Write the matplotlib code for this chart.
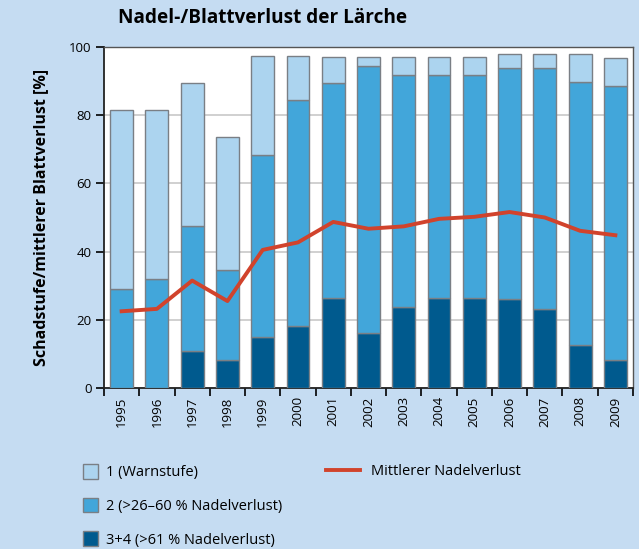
import matplotlib.pyplot as plt
from matplotlib.patches import Patch
from matplotlib.lines import Line2D
import numpy as np

years = ["1995", "1996", "1997", "1998", "1999", "2000", "2001", "2002",
         "2003", "2004", "2005", "2006", "2007", "2008", "2009"]
# cumulative tops
total = [81.5, 81.5, 89.4, 73.7, 97.4, 97.4, 97.1, 97.1, 97.1, 97.1, 97.1, 97.9, 97.9, 97.9, 96.8]
top2 = [29.1, 32.0, 47.5, 34.6, 68.2, 84.6, 89.4, 94.5, 91.9, 91.9, 91.9, 93.9, 93.9, 89.6, 88.7]
stufe34 = [0, 0, 10.8, 8.2, 15.0, 18.3, 26.5, 16.1, 23.8, 26.5, 26.5, 26.2, 23.3, 12.7, 8.2]
mittel = [22.5, 23.2, 31.5, 25.5, 40.5, 42.7, 48.7, 46.7, 47.4, 49.6, 50.2, 51.6, 50.0, 46.1, 44.8]

stufe2 = [t - d for t, d in zip(top2, stufe34)]
stufe1 = [t - m for t, m in zip(total, top2)]

c_light = "#acd4ef"
c_mid = "#42a6da"
c_dark = "#005a8e"
c_line = "#d1432c"
bg = "#c5dcf2"
edge = "#7a7f85"

plt.rcParams['font.family'] = ['Open Sans', 'DejaVu Sans']

fig = plt.figure(figsize=(6.39, 5.49), dpi=100, facecolor=bg)
ax = fig.add_axes([104 / 639, 1 - 388 / 549, 529 / 639, 341 / 549])
ax.set_facecolor("white")

x = np.arange(len(years))
w = 0.65
kw = dict(width=w, edgecolor=edge, linewidth=1.0, zorder=3)
ax.bar(x, stufe34, color=c_dark, **kw)
ax.bar(x, stufe2, bottom=stufe34, color=c_mid, **kw)
ax.bar(x, stufe1, bottom=top2, color=c_light, **kw)
ax.plot(x, mittel, color=c_line, linewidth=2.8, zorder=4)

ax.set_xlim(-0.5, len(years) - 0.5)
ax.set_ylim(0, 100)
ax.set_yticks([0, 20, 40, 60, 80, 100])
ax.yaxis.grid(True, color="#c8c8c8", linewidth=1.2, zorder=0)
ax.set_axisbelow(True)

ax.set_xticks(x)
ax.set_xticklabels(years, rotation=90, fontsize=9.5)
ax.set_xticks(np.arange(len(years) + 1) - 0.5, minor=True)
ax.tick_params(axis='x', which='major', length=0, pad=6)
ax.tick_params(axis='x', which='minor', length=6, width=1.2, direction='out')
ax.tick_params(axis='y', length=6, width=1.2, labelsize=9.5, pad=3)

for s in ["left", "bottom"]:
    ax.spines[s].set_color("#222222")
    ax.spines[s].set_linewidth(1.3)
for s in ["top", "right"]:
    ax.spines[s].set_color("#555555")
    ax.spines[s].set_linewidth(1.0)

ax.set_ylabel("Schadstufe/mittlerer Blattverlust [%]", fontsize=11.5,
              fontweight="bold", labelpad=14)

fig.text(118 / 639, 1 - 18 / 549, "Nadel-/Blattverlust der Lärche",
         fontsize=13.7, fontweight="bold", va="center", ha="left")

handles = [Patch(facecolor=c_light, edgecolor=edge, label="1 (Warnstufe)"),
           Patch(facecolor=c_mid, edgecolor=edge, label="2 (>26–60 % Nadelverlust)"),
           Patch(facecolor=c_dark, edgecolor=edge, label="3+4 (>61 % Nadelverlust)")]
leg1 = fig.legend(handles=handles, loc="upper left", bbox_to_anchor=(70 / 639, 1 - 451 / 549),
                  frameon=False, fontsize=10.5, handlelength=1.0, handleheight=1.15,
                  handletextpad=0.55, labelspacing=1.2)
leg2 = fig.legend(handles=[Line2D([], [], color=c_line, linewidth=2.8, label="Mittlerer Nadelverlust")],
                  loc="upper left", bbox_to_anchor=(313 / 639, 1 - 451 / 549),
                  frameon=False, fontsize=10.5, handlelength=2.3, handletextpad=0.8)

fig.savefig("out.png", dpi=100, facecolor=bg)
